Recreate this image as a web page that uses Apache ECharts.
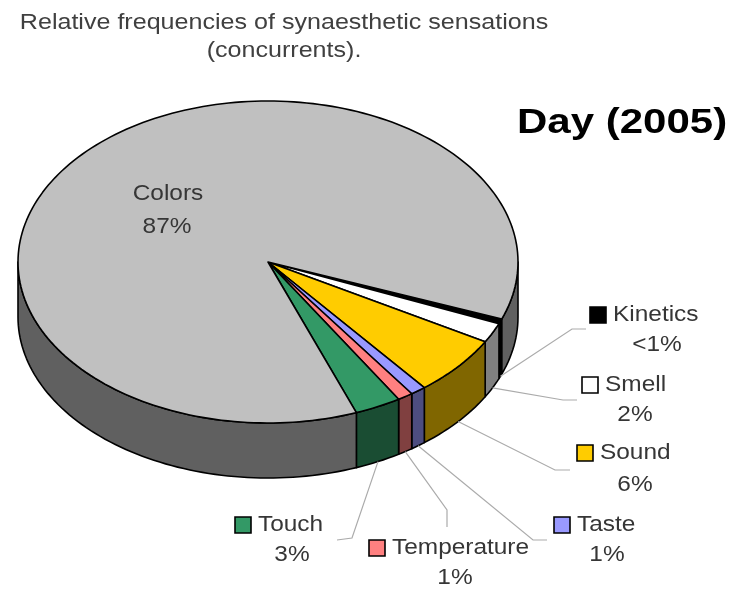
<!DOCTYPE html>
<html>
<head>
<meta charset="utf-8">
<script src="https://cdn.jsdelivr.net/npm/echarts@6/dist/echarts.min.js"></script>
<style>
html,body{margin:0;padding:0;background:#fff;}
#chart{width:741px;height:589px;}
</style>
</head>
<body>
<div id="chart"></div>
<script>
// ---- data ----
const categories = ['Kinetics', 'Smell', 'Sound', 'Taste', 'Temperature', 'Touch', 'Colors'];
const values = [0.5, 2, 6, 1, 1, 3, 86.5];
const valueLabels = ['<1%', '2%', '6%', '1%', '1%', '3%', '87%'];
const titleLines = ['Relative frequencies of synaesthetic sensations', '(concurrents).'];
const sourceLabel = 'Day (2005)';

// ---- styles ----
const topColors = ['#000000', '#FFFFFF', '#FFCC00', '#9999FF', '#FF8080', '#339966', '#C0C0C0'];
const sideColors = ['#000000', '#808080', '#806600', '#4D4D80', '#804040', '#1A4D33', '#606060'];

// ---- geometry of the tilted pie ----
const geo = { cx: 268, cy: 262, rx: 250, ry: 161, depth: 55, startAngle: 20.7 };

// ---- label layout (positions only) ----
const labelLayout = {
  Kinetics:    { name: [613, 315], pct: [657, 345], elbow: [572, 329], end: [586, 329] },
  Smell:       { name: [605, 385], pct: [635, 415], elbow: [563, 400], end: [577, 400] },
  Sound:       { name: [600, 453], pct: [635, 485], elbow: [555, 470], end: [570, 470] },
  Taste:       { name: [577, 525], pct: [607, 555], elbow: [533, 540], end: [547, 540] },
  Temperature: { name: [392, 548], pct: [455, 578], elbow: [447, 510], end: [447, 527] },
  Touch:       { name: [258, 525], pct: [292, 555], elbow: [352, 538], end: [337, 540] },
  Colors:      { inside: true, name: [168, 194], pct: [167, 227] }
};

const total = values.reduce((s, v) => s + v, 0);
const angles = [];
(function () {
  let acc = 0;
  values.forEach(v => {
    const a0 = geo.startAngle + acc / total * 360;
    acc += v;
    const a1 = geo.startAngle + acc / total * 360;
    angles.push([a0, a1]);
  });
})();

function pt(deg, dz) {
  const r = deg * Math.PI / 180;
  return [geo.cx + geo.rx * Math.cos(r), geo.cy + geo.ry * Math.sin(r) + (dz || 0)];
}
function arc(a0, a1, dz) {
  const n = Math.max(2, Math.ceil((a1 - a0) / 1.5));
  const pts = [];
  for (let k = 0; k <= n; k++) pts.push(pt(a0 + (a1 - a0) * k / n, dz));
  return pts;
}

const LABEL_FONT = '22px "Liberation Sans", Arial, sans-serif';
const TEXT_COLOR = '#363636';
const SX = 1.11;
const OUTLINE = 1.6;

function renderWalls(params, api) {
  const i = params.dataIndex;
  const [a0, a1] = angles[i];
  const children = [];
  [[-360, -180], [0, 180], [360, 540]].forEach(([lo, hi]) => {
    const s = Math.max(a0, lo), e = Math.min(a1, hi);
    if (e > s) {
      const top = arc(s, e, 0);
      const bottom = arc(s, e, geo.depth).reverse();
      children.push({
        type: 'polygon',
        shape: { points: top.concat(bottom) },
        style: { fill: sideColors[i], stroke: '#000', lineWidth: OUTLINE, lineJoin: 'round' }
      });
    }
  });
  return { type: 'group', children };
}

function renderTops(params, api) {
  const i = params.dataIndex;
  const [a0, a1] = angles[i];
  const pts = [[geo.cx, geo.cy]].concat(arc(a0, a1, 0));
  return {
    type: 'polygon',
    shape: { points: pts },
    style: { fill: topColors[i], stroke: '#000', lineWidth: OUTLINE, lineJoin: 'round' }
  };
}

function renderLabels(params, api) {
  const i = params.dataIndex;
  const name = categories[i];
  const L = labelLayout[name];
  const children = [];
  if (L.inside) {
    children.push({ type: 'text', x: L.name[0], y: L.name[1], scaleX: SX,
      style: { text: name, font: LABEL_FONT, fill: TEXT_COLOR, align: 'center', verticalAlign: 'middle' } });
    children.push({ type: 'text', x: L.pct[0], y: L.pct[1], scaleX: SX,
      style: { text: valueLabels[i], font: LABEL_FONT, fill: TEXT_COLOR, align: 'center', verticalAlign: 'middle' } });
    return { type: 'group', children };
  }
  const mid = (angles[i][0] + angles[i][1]) / 2;
  const start = pt(mid, geo.depth);
  children.push({ type: 'polyline', shape: { points: [start, L.elbow, L.end] },
    style: { stroke: '#ababab', lineWidth: 1.2, fill: null } });
  children.push({ type: 'rect', shape: { x: L.name[0] - 23, y: L.name[1] - 8, width: 16, height: 16 },
    style: { fill: topColors[i], stroke: '#000', lineWidth: 1.6 } });
  children.push({ type: 'text', x: L.name[0], y: L.name[1], scaleX: SX,
    style: { text: name, font: LABEL_FONT, fill: TEXT_COLOR, align: 'left', verticalAlign: 'middle' } });
  children.push({ type: 'text', x: L.pct[0], y: L.pct[1], scaleX: SX,
    style: { text: valueLabels[i], font: LABEL_FONT, fill: TEXT_COLOR, align: 'center', verticalAlign: 'middle' } });
  return { type: 'group', children };
}

const seriesData = values.map((v, i) => ({ name: categories[i], value: [v] }));

const chart = echarts.init(document.getElementById('chart'), null, { renderer: 'canvas' });
chart.setOption({
  backgroundColor: '#ffffff',
  animation: false,
  graphic: [
    { type: 'text', x: 284, y: 23, scaleX: 1.14,
      style: { text: titleLines[0], font: '22px "Liberation Sans", Arial, sans-serif', fill: '#404040', align: 'center', verticalAlign: 'middle' } },
    { type: 'text', x: 284, y: 51, scaleX: 1.14,
      style: { text: titleLines[1], font: '22px "Liberation Sans", Arial, sans-serif', fill: '#404040', align: 'center', verticalAlign: 'middle' } },
    { type: 'text', x: 517, y: 123, scaleX: 1.2,
      style: { text: sourceLabel, font: 'bold 35px "Liberation Sans", Arial, sans-serif', fill: '#000', align: 'left', verticalAlign: 'middle' } }
  ],
  series: [
    { type: 'custom', name: 'walls', coordinateSystem: 'none', renderItem: renderWalls, data: seriesData, z: 1, silent: true },
    { type: 'custom', name: 'tops', coordinateSystem: 'none', renderItem: renderTops, data: seriesData, z: 2, silent: true },
    { type: 'custom', name: 'labels', coordinateSystem: 'none', renderItem: renderLabels, data: seriesData, z: 3, silent: true }
  ]
});
</script>
</body>
</html>
